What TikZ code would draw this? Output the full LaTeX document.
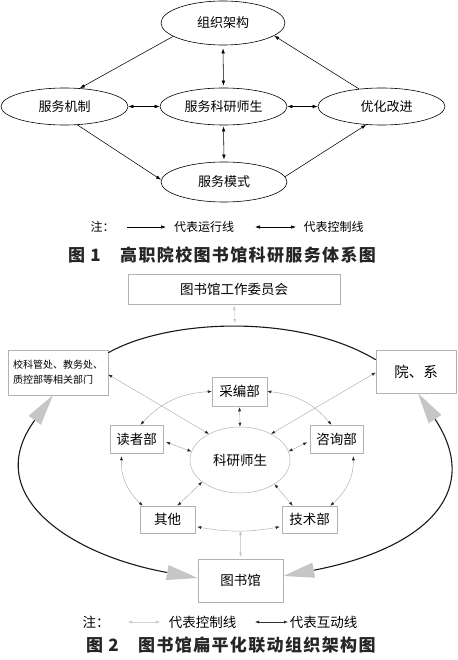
\documentclass[tikz,border=0pt]{standalone}
\usepackage{fontspec}
\setmainfont{Noto Sans CJK SC}
\usetikzlibrary{arrows.meta,shapes.geometric,calc}
\begin{document}
\begin{tikzpicture}[x=1pt,y=-1pt,
  ell/.style={ellipse,draw=black,line width=0.6pt,inner sep=0pt,minimum width=127pt,minimum height=37pt,font=\fontsize{13}{13}\selectfont},
  run/.style={draw=black,line width=0.55pt,-{Latex[length=5pt,width=3.5pt]}},
  ctl/.style={draw=black,line width=0.55pt,{Latex[length=5pt,width=3.5pt]}-{Latex[length=5pt,width=3.5pt]}},
  box/.style={draw=gray!60,line width=0.5pt,inner sep=0pt,font=\fontsize{13.5}{13.5}\selectfont},
  inter/.style={draw=gray!65,line width=0.45pt,{Latex[length=4pt,width=3pt,color=black!85]}-{Latex[length=4pt,width=3pt,color=black!85]}},
  interleg/.style={draw=black!80,line width=0.5pt,{Latex[length=4pt,width=3pt,color=black!85]}-{Latex[length=4pt,width=3pt,color=black!85]}},
  ctrl/.style={draw=gray!35,line width=0.45pt,{Latex[length=4pt,width=3pt,color=gray!45]}-{Latex[length=4pt,width=3pt,color=gray!45]}},
  bigloop/.style={draw=black!90,line width=1.1pt,{Triangle[length=31pt,width=15pt,color=gray!45]}-{Triangle[length=31pt,width=15pt,color=gray!45]}},
  captext/.style={font=\fontsize{17}{17}\selectfont\bfseries\addfontfeature{LetterSpace=8},anchor=west,inner sep=0pt,text=black!85},
  note/.style={font=\fontsize{12}{12}\selectfont,inner sep=0pt},
  note2/.style={font=\fontsize{13.5}{13.5}\selectfont,inner sep=0pt}
]
\useasboundingbox (0,0) rectangle (457,660);

% ---------- Figure 1 ----------
\node[ell,minimum width=124pt,minimum height=44pt] (n1) at (223,23) {组织架构};
\node[ell] (n2) at (64.5,106.5) {服务机制};
\node[ell] (n3) at (223.5,106.5) {服务科研师生};
\node[ell] (n4) at (381.5,106.5) {\hspace{10pt}优化改进};
\node[ell,minimum width=126pt,minimum height=40pt] (n5) at (224,182) {服务模式};

\draw[run] (n1.195) -- (n2.50);
\draw[ctl,shorten <=3pt,shorten >=2pt] (n1.south) -- (n3.north);
\draw[ctl] (n2.east) -- (n3.west);
\draw[ctl] (n3.east) -- (n4.west);
\draw[ctl,shorten <=1pt,shorten >=2pt] (n3.south) -- (n5.north);
\draw[run] (n2.-55) -- (n5.178);
\draw[run] (n5.5) -- (n4.230);
\draw[run] (n4.142) -- (n1.-14);

\node[note] (l1a) at (102.5,227) {注：};
\coordinate (l1b) at (127,227);
\coordinate (l1c) at (166,227);
\draw[run] (l1b) -- (l1c);
\node[note] (l1d) at (204,227) {代表运行线};
\coordinate (l1e) at (255,227);
\coordinate (l1f) at (296,227);
\draw[ctl] (l1e) -- (l1f);
\node[note] (l1g) at (333.5,227) {代表控制线};

\node[captext] (c1n) at (68,255) {图 1};
\node[captext] (c1t) at (120,255) {高职院校图书馆科研服务体系图};

% ---------- Figure 2 ----------
\node[box,minimum width=212pt,minimum height=30pt] (wy) at (234,289) {图书馆工作委员会};
\coordinate (arctop) at (235,323);
\node[box,minimum width=100pt,minimum height=45pt,align=left,font=\fontsize{10}{15}\selectfont] (lb) at (58,372.5) {校科管处、教务处、\\质控部等相关部门};
\node[box,minimum width=80pt,minimum height=43pt,font=\fontsize{14.5}{14.5}\selectfont] (rb) at (416,371.5) {院、系};
\node[box,minimum width=55pt,minimum height=29pt] (cb) at (239.5,391.5) {采编部};
\node[box,minimum width=53pt,minimum height=28pt] (db) at (136.5,439) {读者部};
\node[box,minimum width=53pt,minimum height=28pt] (zb) at (336.5,439) {咨询部};
\node[ellipse,draw=gray!60,line width=0.5pt,minimum width=100pt,minimum height=66pt,inner sep=0pt,font=\fontsize{13.5}{13.5}\selectfont] (ke) at (240,460) {科研师生};
\node[box,minimum width=55pt,minimum height=27pt] (qb) at (167.5,519.5) {其他};
\node[box,minimum width=55pt,minimum height=27pt] (jb) at (309.5,519.5) {技术部};
\node[box,minimum width=85pt,minimum height=43pt] (tb) at (240.5,580.5) {图书馆};
\coordinate (qjm) at (240.5,531);

% top arc
\draw[line width=1.1pt,black!90] ([yshift=-3pt]lb.north east) .. controls (170,318) and (300,314) .. ([yshift=-10pt]rb.north west);
\draw[ctrl,shorten <=1.5pt] (wy.south) -- (arctop);

% interaction lines
\draw[inter] ([yshift=-2pt]lb.east) -- (ke.140);
\draw[inter] ([yshift=-1pt]rb.west) -- (ke.40);
\draw[inter,shorten <=1pt] (cb.south) -- (ke.north);
\draw[inter] (cb.west) to[bend right=22] ([xshift=4pt]db.north);
\draw[inter] (cb.east) to[bend left=22] ([xshift=-5pt]zb.north);
\draw[inter,shorten <=3pt] ([yshift=-2pt]db.east) -- (ke.170);
\draw[inter,shorten <=3pt] ([yshift=-2pt]zb.west) -- (ke.10);
\draw[inter,shorten <=3pt] ([xshift=12pt]db.south west) to[bend right=25] ([xshift=3pt]qb.north west);
\draw[inter,shorten <=3pt] ([xshift=-10pt]zb.south east) to[bend left=25] ([xshift=-7pt]jb.north east);
\draw[inter] (ke.210) -- ([xshift=10pt]qb.north);
\draw[inter] (ke.-35) -- ([xshift=11pt]jb.north west);
\draw[inter,shorten <=2pt,shorten >=2pt] ([yshift=-7pt]qb.east) to[bend right=10] ([yshift=-7pt]jb.west);
\draw[ctrl,shorten <=2pt] (tb.north) -- (qjm);

% big loops
\draw[bigloop] ([xshift=-5pt]lb.south) .. controls (-20,495) and (70,555) .. ([yshift=2.5pt]tb.west);
\draw[bigloop] ([xshift=2pt]rb.south) .. controls (485,495) and (420,550) .. ([yshift=4.5pt]tb.east);

% legend
\node[note2] (l2a) at (96,622) {注：};
\coordinate (l2b) at (128,622);
\coordinate (l2c) at (160,622);
\draw[ctrl] (l2b) -- (l2c);
\node[note2] (l2d) at (202.5,622) {代表控制线};
\coordinate (l2e) at (255,622);
\coordinate (l2f) at (288,622);
\draw[interleg] (l2e) -- (l2f);
\node[note2] (l2g) at (323.5,622) {代表互动线};

\node[captext] (c2n) at (86,645) {图 2};
\node[captext] (c2t) at (138,645) {图书馆扁平化联动组织架构图};
\end{tikzpicture}
\end{document}
